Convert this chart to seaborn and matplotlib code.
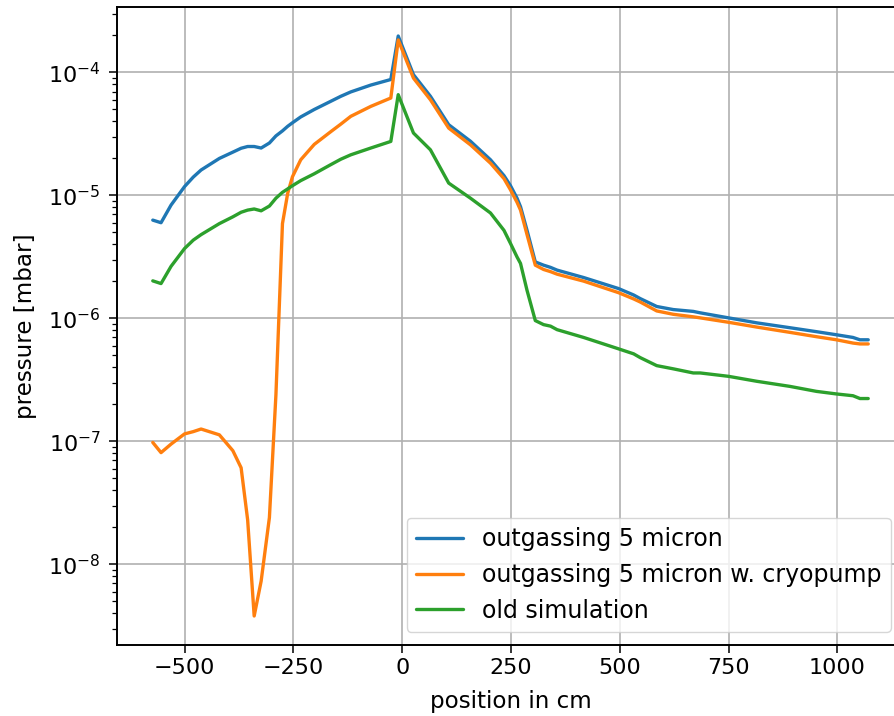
import numpy as np
import pandas as pd
import matplotlib
matplotlib.use("Agg")
import matplotlib.pyplot as plt
import seaborn as sns

position = [-573, -554, -531, -500, -480, -462, -420, -389, -370, -355, -340, -324, -305,
            -290, -275, -263, -252, -233, -202, -164, -141, -118, -72, -26, -9,
            26, 65, 107, 157, 203, 234, 249, 264, 272, 287, 306, 325, 341, 356,
            417, 497, 532, 547, 585, 623, 669, 685, 750, 815, 891, 952, 998,
            1036, 1052, 1071]

outgassing = [6.3e-6, 6.0e-6, 8.35e-6, 1.18e-5, 1.41e-5, 1.61e-5, 2.0e-5, 2.25e-5, 2.42e-5,
              2.5e-5, 2.5e-5, 2.43e-5, 2.67e-5, 3.05e-5, 3.35e-5, 3.65e-5, 3.9e-5,
              4.35e-5, 5.0e-5, 5.83e-5, 6.4e-5, 6.95e-5, 7.9e-5, 8.77e-5, 1.98e-4,
              9.6e-5, 6.4e-5, 3.76e-5, 2.76e-5, 1.95e-5, 1.45e-5, 1.2e-5, 9.5e-6,
              8.1e-6, 5.2e-6, 2.88e-6, 2.71e-6, 2.6e-6, 2.47e-6, 2.15e-6, 1.75e-6,
              1.55e-6, 1.45e-6, 1.25e-6, 1.18e-6, 1.14e-6, 1.11e-6, 1.01e-6, 9.2e-7,
              8.4e-7, 7.8e-7, 7.36e-7, 7.0e-7, 6.7e-7, 6.7e-7]

cryopump = [9.8e-8, 8.1e-8, 9.5e-8, 1.15e-7, 1.2e-7, 1.26e-7, 1.13e-7, 8.4e-8, 6.1e-8,
            2.3e-8, 3.8e-9, 7.3e-9, 2.4e-8, 2.4e-7, 5.9e-6, 1.04e-5, 1.42e-5,
            1.95e-5, 2.6e-5, 3.3e-5, 3.8e-5, 4.4e-5, 5.3e-5, 6.2e-5, 1.84e-4,
            9.0e-5, 6.0e-5, 3.53e-5, 2.58e-5, 1.83e-5, 1.37e-5, 1.11e-5, 8.8e-6,
            7.6e-6, 4.8e-6, 2.71e-6, 2.5e-6, 2.4e-6, 2.29e-6, 2.01e-6, 1.62e-6,
            1.44e-6, 1.36e-6, 1.15e-6, 1.08e-6, 1.03e-6, 1.01e-6, 9.3e-7, 8.5e-7,
            7.7e-7, 7.1e-7, 6.7e-7, 6.3e-7, 6.2e-7, 6.2e-7]

old_sim = [2.02e-6, 1.92e-6, 2.65e-6, 3.7e-6, 4.33e-6, 4.8e-6, 5.9e-6, 6.7e-6, 7.3e-6,
           7.6e-6, 7.76e-6, 7.5e-6, 8.2e-6, 9.5e-6, 1.06e-5, 1.13e-5, 1.2e-5,
           1.32e-5, 1.5e-5, 1.78e-5, 1.97e-5, 2.14e-5, 2.43e-5, 2.75e-5, 6.6e-5,
           3.22e-5, 2.35e-5, 1.26e-5, 9.5e-6, 7.2e-6, 5.2e-6, 4.07e-6, 3.16e-6,
           2.8e-6, 1.69e-6, 9.6e-7, 8.9e-7, 8.65e-7, 8.1e-7, 7.0e-7, 5.66e-7,
           5.15e-7, 4.8e-7, 4.13e-7, 3.89e-7, 3.6e-7, 3.6e-7, 3.38e-7, 3.08e-7,
           2.8e-7, 2.55e-7, 2.43e-7, 2.35e-7, 2.23e-7, 2.23e-7]

labels = ["outgassing 5 micron", "outgassing 5 micron w. cryopump", "old simulation"]

FS = 16
LFS = 16.6
sns.set_style("ticks")
plt.rcParams["font.family"] = ["DejaVu Sans"]
plt.rcParams["font.size"] = FS
plt.rcParams["mathtext.fontset"] = "dejavusans"
plt.rcParams["text.color"] = "black"
plt.rcParams["axes.labelcolor"] = "black"
plt.rcParams["xtick.color"] = "black"
plt.rcParams["ytick.color"] = "black"

fig = plt.figure(figsize=(8.95, 7.16), dpi=100)
ax = fig.add_axes([117 / 895, 71 / 716, (904 - 117) / 895, (645 - 7) / 716])

palette = sns.color_palette("tab10", 3)
for ys, lab, col in zip([outgassing, cryopump, old_sim], labels, palette):
    df = pd.DataFrame({"position": position, "pressure": ys})
    sns.lineplot(data=df, x="position", y="pressure", ax=ax, label=lab,
                 color=col, linewidth=2.4, sort=False, estimator=None)

ax.set_yscale("log")
ax.margins(x=0.05, y=0.05)
ax.set_xticks([-500, -250, 0, 250, 500, 750, 1000])
ax.grid(True, which="major", color="#b0b0b0", linewidth=1.2)
ax.set_xlabel("position in cm", fontsize=LFS, labelpad=9)
ax.set_ylabel("pressure [mbar]", fontsize=LFS, labelpad=8)
ax.tick_params(axis="both", which="major", labelsize=FS, length=5.8, width=1.1, color="black")
ax.tick_params(axis="y", which="major", pad=6)
ax.tick_params(axis="y", which="minor", length=3.5, width=0.9, color="black")
for s in ax.spines.values():
    s.set_linewidth(1.4)
    s.set_color("black")

leg = ax.legend(loc="lower right", fontsize=17, framealpha=0.8, fancybox=True,
                edgecolor="#cccccc", borderaxespad=0.55)
for l in leg.get_lines():
    l.set_linewidth(2.4)

fig.savefig("out.png", dpi=100)
